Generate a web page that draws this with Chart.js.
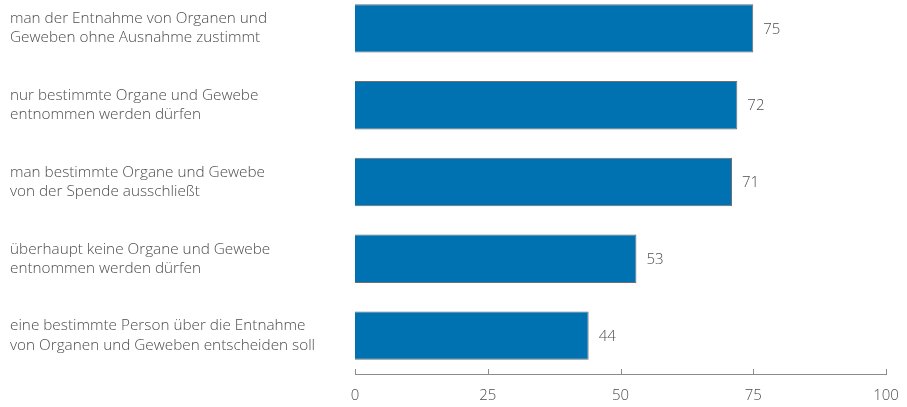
<!DOCTYPE html>
<html>
<head>
<meta charset="utf-8">
<script src="https://cdn.jsdelivr.net/npm/chart.js@4"></script>
<style>
  html, body { margin: 0; padding: 0; background: #fff; overflow: hidden; }
  #wrap { position: absolute; left: 0; top: -10px; width: 907px; height: 417px; }
</style>
</head>
<body>
<div id="wrap"><canvas id="chart"></canvas></div>
<script>
const categories = [
  ["man der Entnahme von Organen und", "Geweben ohne Ausnahme zustimmt"],
  ["nur bestimmte Organe und Gewebe", "entnommen werden dürfen"],
  ["man bestimmte Organe und Gewebe", "von der Spende ausschließt"],
  ["überhaupt keine Organe und Gewebe", "entnommen werden dürfen"],
  ["eine bestimmte Person über die Entnahme", "von Organen und Geweben entscheiden soll"]
];
const values = [75, 72, 71, 53, 44];
const xTicks = [0, 25, 50, 75, 100];

const FONT = "'Open Sans', sans-serif";
const TEXT = "#4d4d4d";

// value labels right of each bar
const valueLabels = {
  id: "valueLabels",
  afterDatasetsDraw(chart) {
    const ctx = chart.ctx;
    const meta = chart.getDatasetMeta(0);
    ctx.save();
    ctx.font = "300 15px " + FONT;
    ctx.fillStyle = TEXT;
    ctx.textAlign = "left";
    ctx.textBaseline = "middle";
    meta.data.forEach((bar, i) => {
      ctx.fillText(String(values[i]), bar.x + 10, bar.y + 1);
    });
    ctx.restore();
  }
};

// small tick marks standing up from the x axis
const upTicks = {
  id: "upTicks",
  afterDraw(chart) {
    const sx = chart.scales.x;
    const ctx = chart.ctx;
    ctx.save();
    ctx.strokeStyle = "#8c8c8c";
    ctx.lineWidth = 1;
    xTicks.forEach((v) => {
      const x = Math.round(sx.getPixelForValue(v)) + 0.5;
      ctx.beginPath();
      ctx.moveTo(x, sx.top - 5);
      ctx.lineTo(x, sx.top);
      ctx.stroke();
    });
    ctx.restore();
  }
};

new Chart(document.getElementById("chart"), {
  type: "bar",
  data: {
    labels: categories,
    datasets: [{
      data: values,
      backgroundColor: "#0071b1",
      borderColor: "#6e6e6e",
      borderWidth: 1,
      categoryPercentage: 1,
      barPercentage: 0.63
    }]
  },
  options: {
    indexAxis: "y",
    responsive: true,
    maintainAspectRatio: false,
    animation: false,
    layout: { padding: { left: 10, right: 21, top: 0, bottom: 0 } },
    plugins: { legend: { display: false }, tooltip: { enabled: false } },
    scales: {
      x: {
        min: 0,
        max: 100,
        afterBuildTicks(scale) { scale.ticks = xTicks.map((v) => ({ value: v })); },
        afterFit(scale) {
          scale.height = 33;
          scale.paddingLeft = 0;
          scale.paddingRight = 0;
        },
        grid: { display: false, drawTicks: false },
        border: { display: true, color: "#8c8c8c", width: 1 },
        ticks: { color: TEXT, font: { family: FONT, size: 15, weight: 300 }, padding: 13, maxRotation: 0 }
      },
      y: {
        afterFit(scale) {
          scale.width = 345;
          scale.paddingTop = 0;
          scale.paddingBottom = 0;
        },
        grid: { display: false, drawTicks: false },
        border: { display: false },
        ticks: {
          color: TEXT,
          crossAlign: "far",
          padding: 0,
          font: { family: FONT, size: 15.3, weight: 300, lineHeight: 1.25 }
        }
      }
    }
  },
  plugins: [valueLabels, upTicks]
});
</script>
</body>
</html>
